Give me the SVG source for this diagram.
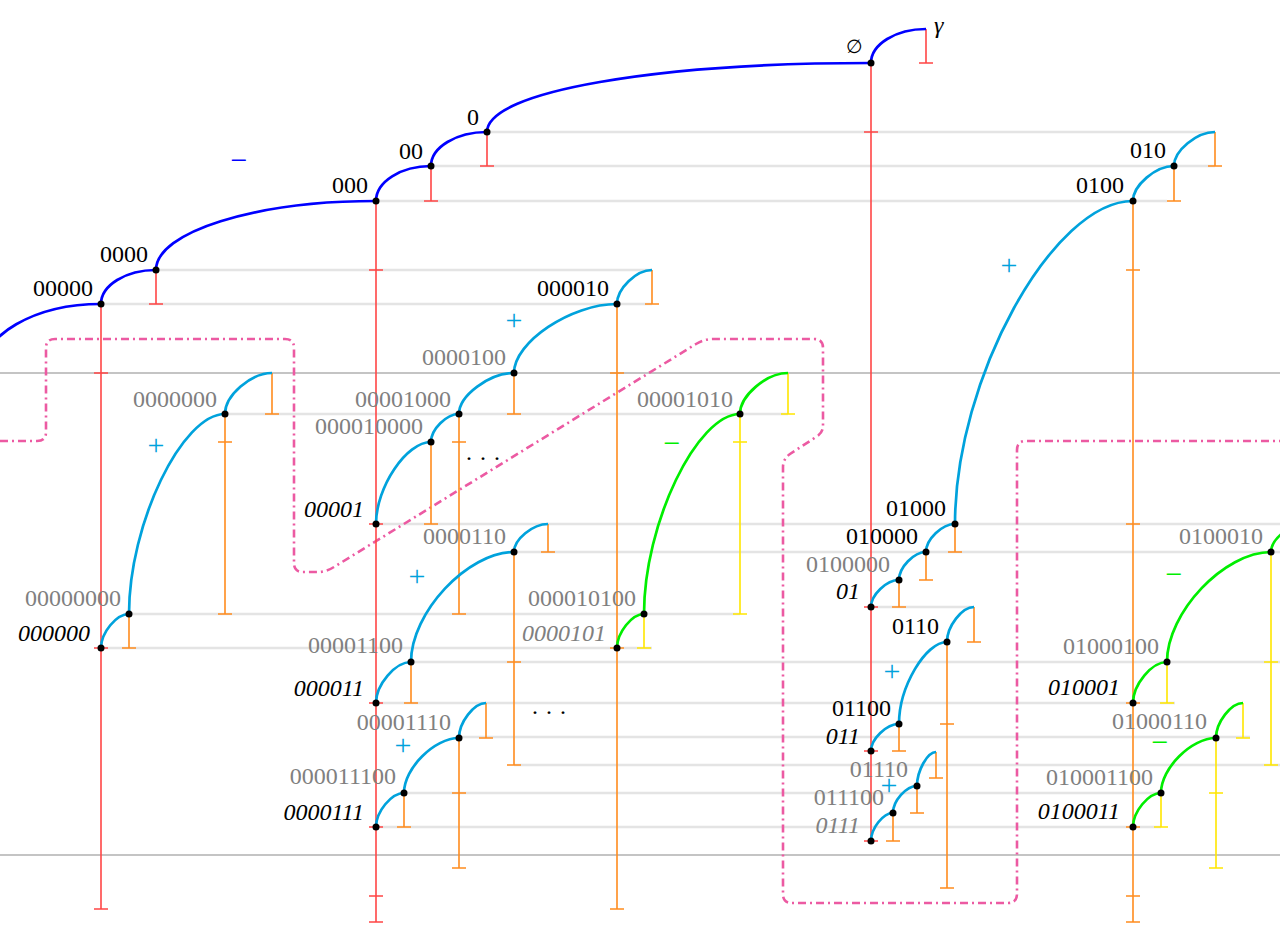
<svg xmlns="http://www.w3.org/2000/svg" width="1280" height="951" viewBox="0 0 1280 951">
<style>
.bg{fill:#ffffff}
.gl{stroke:#e4e4e4;stroke-width:2.6;fill:none}
.ax{stroke:#8a8a8a;stroke-width:1.2;fill:none}
.pk{stroke:#ec5aa2;stroke-width:2.6;fill:none;stroke-dasharray:8 4 2 4}
.red{stroke:#ff4646;stroke-width:1.6;fill:none}
.org{stroke:#ff8c1e;stroke-width:1.6;fill:none}
.yel{stroke:#ffe600;stroke-width:1.6;fill:none}
.blue{stroke:#0000ff;stroke-width:2.7;fill:none}
.cy{stroke:#00a2dc;stroke-width:2.7;fill:none}
.grn{stroke:#00ee00;stroke-width:2.7;fill:none}
.dot{fill:#000000}
text{font-family:"Liberation Serif","DejaVu Serif",serif;font-size:24px}
.lb{text-anchor:end;fill:#000000}
.gr{fill:#808080}
.it{font-style:italic}
.sg{font-size:30px;text-anchor:middle}
.sc{fill:#00a2dc}
.sb{fill:#0000ff}
.sgn{fill:#00ee00}
</style>
<rect class="bg" x="0" y="0" width="1280" height="951"/>
<g id="guides">
<path class="gl" d="M487 132H1215M431 166H1215M376 201H1167M156 270H652M101 304H652M225 414H788M376 524H1280M514 552H1280M871 607H974M129 614H740M101 648H652M411 662H1280M376 703H1175M459 737H1250M514 765H1280M404 793H1162M376 827H1161"/>
<path class="ax" d="M0 373H1280M0 855H1280"/>
</g>
<g id="region">
<path class="pk" d="M0 441H37Q46 441 46 432V348Q46 339 55 339H285Q294 339 294 348V563Q294 572 303 572H318Q326 572 334 567L696 344Q704 339 713 339H814Q823 339 823 348V426Q823 433 816 437L790 454Q783 459 783 467V894Q783 903 792 903H1008Q1017 903 1017 894V450Q1017 441 1026 441H1280"/>
</g>
<g id="connectors">
<path class="red" d="M101 304V909M94 373h14M94 648h14M94 909h14"/>
<path class="red" d="M156 270V304M149 304h14"/>
<path class="red" d="M376 201V922M369 270h14M369 524h14M369 703h14M369 827h14M369 896h14M369 922h14"/>
<path class="red" d="M431 166V201M424 201h14"/>
<path class="red" d="M487 132V166M480 166h14"/>
<path class="red" d="M871 63V841M864 132h14M864 607h14M864 751h14M864 841h14"/>
<path class="red" d="M926 29V63M919 63h14"/>
<path class="org" d="M129 614V648M122 648h14"/>
<path class="org" d="M225 414V614M218 442h14M218 614h14"/>
<path class="org" d="M272 373V414M265 414h14"/>
<path class="org" d="M431 442V524M424 524h14"/>
<path class="org" d="M459 414V614M452 442h14M452 614h14"/>
<path class="org" d="M514 373V414M507 414h14"/>
<path class="org" d="M617 304V909M610 373h14M610 648h14M610 909h14"/>
<path class="org" d="M652 270V304M645 304h14"/>
<path class="org" d="M411 662V703M404 703h14"/>
<path class="org" d="M514 552V765M507 662h14M507 765h14"/>
<path class="org" d="M548 524V552M541 552h14"/>
<path class="org" d="M404 793V827M397 827h14"/>
<path class="org" d="M459 738V868M452 793h14M452 868h14"/>
<path class="org" d="M486 703V738M479 738h14"/>
<path class="org" d="M1133 201V922M1126 270h14M1126 524h14M1126 703h14M1126 827h14M1126 896h14M1126 922h14"/>
<path class="org" d="M1174 166V201M1167 201h14"/>
<path class="org" d="M1215 132V166M1208 166h14"/>
<path class="org" d="M899 580V607M892 607h14"/>
<path class="org" d="M926 552V580M919 580h14"/>
<path class="org" d="M955 524V552M948 552h14"/>
<path class="org" d="M899 724V751M892 751h14"/>
<path class="org" d="M947 642V888M940 724h14M940 888h14"/>
<path class="org" d="M974 607V642M967 642h14"/>
<path class="org" d="M893 813V841M886 841h14"/>
<path class="org" d="M917 786V813M910 813h14"/>
<path class="org" d="M936 752V778M929 778h14"/>
<path class="yel" d="M644 614V648M637 648h14"/>
<path class="yel" d="M740 414V614M733 442h14M733 614h14"/>
<path class="yel" d="M788 373V414M781 414h14"/>
<path class="yel" d="M1167 662V703M1160 703h14"/>
<path class="yel" d="M1271 552V765M1264 662h14M1264 765h14"/>
<path class="yel" d="M1243 703V738M1236 738h14"/>
<path class="yel" d="M1161 793V827M1154 827h14"/>
<path class="yel" d="M1216 738V868M1209 793h14M1209 868h14"/>
<path class="blue" d="M-19 373C-19 335 35 304 101 304"/>
<path class="blue" d="M101 304C101 285.3 125.8 270 156 270"/>
<path class="blue" d="M156 270C156 232 255 201 376 201"/>
<path class="blue" d="M376 201C376 181.8 400.8 166 431 166"/>
<path class="blue" d="M431 166C431 147.3 456.2 132 487 132"/>
<path class="blue" d="M487 132C487 90.6 660 63 871 63"/>
<path class="blue" d="M871 63C871 44.3 895.8 29 926 29"/>
<path class="cy" d="M101 648C101 632.7 116.4 614 129 614"/>
<path class="cy" d="M129 614C129 524 181.8 414 225 414"/>
<path class="cy" d="M225 414C225 395.5 250.9 373 272 373"/>
<path class="cy" d="M376 524C376 487.1 406.3 442 431 442"/>
<path class="cy" d="M431 442C431 429.4 446.4 414 459 414"/>
<path class="cy" d="M459 414C459 395.6 489.3 373 514 373"/>
<path class="cy" d="M514 373C514 342 571 304 617 304"/>
<path class="cy" d="M617 304C617 288.7 636.2 270 652 270"/>
<path class="cy" d="M376 703C376 684.6 395.3 662 411 662"/>
<path class="cy" d="M411 662C411 612.5 467.7 552 514 552"/>
<path class="cy" d="M514 552C514 539.4 532.7 524 548 524"/>
<path class="cy" d="M376 827C376 811.7 391.4 793 404 793"/>
<path class="cy" d="M404 793C404 768.3 434.3 738 459 738"/>
<path class="cy" d="M459 738C459 722.3 473.9 703 486 703"/>
<path class="cy" d="M955 524C955 378.7 1052.9 201 1133 201"/>
<path class="cy" d="M1133 201C1133 185.3 1155.6 166 1174 166"/>
<path class="cy" d="M1174 166C1174 150.7 1196.6 132 1215 132"/>
<path class="cy" d="M871 607C871 594.9 886.4 580 899 580"/>
<path class="cy" d="M899 580C899 567.4 913.9 552 926 552"/>
<path class="cy" d="M926 552C926 539.4 942 524 955 524"/>
<path class="cy" d="M871 751C871 738.9 886.4 724 899 724"/>
<path class="cy" d="M899 724C899 687.1 925.4 642 947 642"/>
<path class="cy" d="M947 642C947 626.3 961.9 607 974 607"/>
<path class="cy" d="M871 841C871 828.4 883.1 813 893 813"/>
<path class="cy" d="M893 813C893 800.9 906.2 786 917 786"/>
<path class="cy" d="M917 786C917 770.7 927.5 752 936 752"/>
<path class="grn" d="M617 648C617 632.7 631.9 614 644 614"/>
<path class="grn" d="M644 614C644 524 696.8 414 740 414"/>
<path class="grn" d="M740 414C740 395.6 766.4 373 788 373"/>
<path class="grn" d="M1133 703C1133 684.6 1151.7 662 1167 662"/>
<path class="grn" d="M1167 662C1167 612.5 1224.2 552 1271 552"/>
<path class="grn" d="M1271 552C1271 539.4 1289.7 524 1305 524"/>
<path class="grn" d="M1133 827C1133 811.7 1148.4 793 1161 793"/>
<path class="grn" d="M1161 793C1161 768.3 1191.3 738 1216 738"/>
<path class="grn" d="M1216 738C1216 722.3 1230.9 703 1243 703"/>
</g>
<g id="signs">
<text class="sg sb" x="239" y="170">−</text>
<text class="sg sc" x="156" y="455">+</text>
<text class="sg sc" x="514" y="330">+</text>
<text class="sg sc" x="417" y="586">+</text>
<text class="sg sc" x="403" y="755">+</text>
<text class="sg sc" x="1009" y="275">+</text>
<text class="sg sc" x="892" y="681">+</text>
<text class="sg sc" x="889" y="795">+</text>
<text class="sg sgn" x="672" y="453">−</text>
<text class="sg sgn" x="1174" y="584">−</text>
<text class="sg sgn" x="1160" y="752">−</text>
<text x="465" y="466">· · ·</text>
<text x="531" y="720">· · ·</text>
</g>
<g id="n-empty"><circle class="dot" cx="871" cy="63" r="3.5"/><text x="854" y="53" style="font-family:'DejaVu Serif',serif;font-size:19px;text-anchor:middle">∅</text></g>
<g id="n-gamma"><text class="it" x="934" y="33">γ</text></g>
<g id="n-0"><circle class="dot" cx="487" cy="132" r="3.5"/><text class="lb" x="479" y="125">0</text></g>
<g id="n-00"><circle class="dot" cx="431" cy="166" r="3.5"/><text class="lb" x="423" y="159">00</text></g>
<g id="n-000"><circle class="dot" cx="376" cy="201" r="3.5"/><text class="lb" x="368" y="193">000</text></g>
<g id="n-0000"><circle class="dot" cx="156" cy="270" r="3.5"/><text class="lb" x="148" y="262">0000</text></g>
<g id="n-00000"><circle class="dot" cx="101" cy="304" r="3.5"/><text class="lb" x="93" y="296">00000</text></g>
<g id="n-000000"><circle class="dot" cx="101" cy="648" r="3.5"/><text class="lb it" x="90" y="641">000000</text></g>
<g id="n-00000000"><circle class="dot" cx="129" cy="614" r="3.5"/><text class="lb gr" x="121" y="606">00000000</text></g>
<g id="n-0000000"><circle class="dot" cx="225" cy="414" r="3.5"/><text class="lb gr" x="217" y="407">0000000</text></g>
<g id="n-00001"><circle class="dot" cx="376" cy="524" r="3.5"/><text class="lb it" x="364" y="517">00001</text></g>
<g id="n-000010000"><circle class="dot" cx="431" cy="442" r="3.5"/><text class="lb gr" x="423" y="434">000010000</text></g>
<g id="n-00001000"><circle class="dot" cx="459" cy="414" r="3.5"/><text class="lb gr" x="451" y="407">00001000</text></g>
<g id="n-0000100"><circle class="dot" cx="514" cy="373" r="3.5"/><text class="lb gr" x="506" y="365">0000100</text></g>
<g id="n-000010"><circle class="dot" cx="617" cy="304" r="3.5"/><text class="lb" x="609" y="296">000010</text></g>
<g id="n-000011"><circle class="dot" cx="376" cy="703" r="3.5"/><text class="lb it" x="364" y="696">000011</text></g>
<g id="n-00001100"><circle class="dot" cx="411" cy="662" r="3.5"/><text class="lb gr" x="403" y="653">00001100</text></g>
<g id="n-0000110"><circle class="dot" cx="514" cy="552" r="3.5"/><text class="lb gr" x="506" y="544">0000110</text></g>
<g id="n-0000111"><circle class="dot" cx="376" cy="827" r="3.5"/><text class="lb it" x="364" y="820">0000111</text></g>
<g id="n-000011100"><circle class="dot" cx="404" cy="793" r="3.5"/><text class="lb gr" x="396" y="784">000011100</text></g>
<g id="n-00001110"><circle class="dot" cx="459" cy="738" r="3.5"/><text class="lb gr" x="451" y="730">00001110</text></g>
<g id="n-0000101"><circle class="dot" cx="617" cy="648" r="3.5"/><text class="lb gr it" x="606" y="641">0000101</text></g>
<g id="n-000010100"><circle class="dot" cx="644" cy="614" r="3.5"/><text class="lb gr" x="636" y="606">000010100</text></g>
<g id="n-00001010"><circle class="dot" cx="740" cy="414" r="3.5"/><text class="lb gr" x="733" y="407">00001010</text></g>
<g id="n-0100"><circle class="dot" cx="1133" cy="201" r="3.5"/><text class="lb" x="1124" y="193">0100</text></g>
<g id="n-010"><circle class="dot" cx="1174" cy="166" r="3.5"/><text class="lb" x="1166" y="158">010</text></g>
<g id="n-01"><circle class="dot" cx="871" cy="607" r="3.5"/><text class="lb it" x="860" y="599">01</text></g>
<g id="n-0100000"><circle class="dot" cx="899" cy="580" r="3.5"/><text class="lb gr" x="890" y="572">0100000</text></g>
<g id="n-010000"><circle class="dot" cx="926" cy="552" r="3.5"/><text class="lb" x="918" y="544">010000</text></g>
<g id="n-01000"><circle class="dot" cx="955" cy="524" r="3.5"/><text class="lb" x="946" y="516">01000</text></g>
<g id="n-011"><circle class="dot" cx="871" cy="751" r="3.5"/><text class="lb it" x="860" y="744">011</text></g>
<g id="n-01100"><circle class="dot" cx="899" cy="724" r="3.5"/><text class="lb" x="891" y="716">01100</text></g>
<g id="n-0110"><circle class="dot" cx="947" cy="642" r="3.5"/><text class="lb" x="939" y="634">0110</text></g>
<g id="n-0111"><circle class="dot" cx="871" cy="841" r="3.5"/><text class="lb gr it" x="860" y="833">0111</text></g>
<g id="n-011100"><circle class="dot" cx="893" cy="813" r="3.5"/><text class="lb gr" x="884" y="805">011100</text></g>
<g id="n-01110"><circle class="dot" cx="917" cy="786" r="3.5"/><text class="lb gr" x="908" y="777">01110</text></g>
<g id="n-010001"><circle class="dot" cx="1133" cy="703" r="3.5"/><text class="lb it" x="1120" y="695">010001</text></g>
<g id="n-01000100"><circle class="dot" cx="1167" cy="662" r="3.5"/><text class="lb gr" x="1159" y="654">01000100</text></g>
<g id="n-0100010"><circle class="dot" cx="1271" cy="552" r="3.5"/><text class="lb gr" x="1263" y="544">0100010</text></g>
<g id="n-0100011"><circle class="dot" cx="1133" cy="827" r="3.5"/><text class="lb it" x="1120" y="819">0100011</text></g>
<g id="n-010001100"><circle class="dot" cx="1161" cy="793" r="3.5"/><text class="lb gr" x="1153" y="785">010001100</text></g>
<g id="n-01000110"><circle class="dot" cx="1216" cy="738" r="3.5"/><text class="lb gr" x="1207" y="729">01000110</text></g>
</svg>
